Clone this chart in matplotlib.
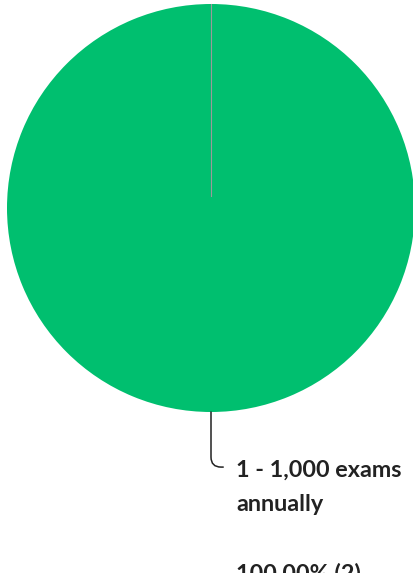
import matplotlib.pyplot as plt

# answer categories and response counts
labels = ['1 - 1,000 exams\nannually']
counts = [2]
colors = ['#00BF6F']

fig = plt.figure(figsize=(4.13, 5.73), dpi=100)
ax = fig.add_axes([0, 0, 1, 1])

# single wedge, starting at 12 o'clock
wedges, _ = ax.pie(counts, colors=colors, startangle=90, counterclock=False,
                   radius=1, wedgeprops=dict(linewidth=0))

# the wedge seam at the top
ax.plot([0, 0], [0.06, 1], color='#9a9a9a', lw=0.8, zorder=3)

# pixel-like layout: centre at (211, 208) px, radius 204 px
r = 204.0
ax.set_xlim(-211 / r, (413 - 211) / r)
ax.set_ylim(-(573 - 208) / r, 208 / r)
ax.set_aspect('equal')
ax.axis('off')

total = sum(counts)
for i, lab in enumerate(labels):
    pct = counts[i] / total * 100
    # leader line from bottom of the pie
    ax.annotate('', xy=(0, -1), xytext=(0.06, -1.27),
                arrowprops=dict(arrowstyle='-', color='#222222', lw=1.1,
                                connectionstyle='angle,angleA=0,angleB=90,rad=10',
                                shrinkA=0, shrinkB=0))
    ax.text(0.1225, -1.235, '%s\n\n%.2f%% (%d)' % (lab, pct, counts[i]),
            ha='left', va='top', fontsize=16.8, fontweight='bold',
            family='Lato', color='#222222', linespacing=1.77)

fig.savefig('out.png', dpi=100)
